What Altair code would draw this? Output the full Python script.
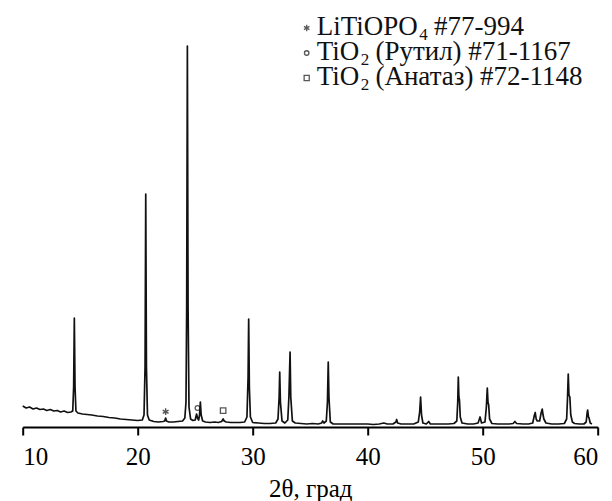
import altair as alt
import pandas as pd

# Diffraction pattern (2θ in degrees, intensity in arbitrary units)
two_theta = [
    10.0, 10.3, 10.6, 10.9, 11.2, 11.5, 11.8, 12.1, 12.4, 12.7, 13.0, 13.3, 13.6, 13.9, 14.2,
    14.35, 14.43, 14.49, 14.55, 14.63, 14.8, 15.2, 15.6, 16.0, 16.5, 17.0, 17.5, 18.0, 18.5,
    19.0, 19.5, 20.0, 20.4, 20.55, 20.64, 20.7, 20.76, 20.85, 21.0, 21.4, 21.8, 22.2, 22.35,
    22.43, 22.5, 22.7, 23.1, 23.5, 23.9, 24.1, 24.2, 24.26, 24.32, 24.38, 24.46, 24.6, 24.8,
    25.0, 25.12, 25.2, 25.3, 25.38, 25.45, 25.52, 25.65, 25.9, 26.3, 26.7, 27.0, 27.3, 27.43,
    27.52, 27.7, 28.1, 28.5, 28.9, 29.3, 29.5, 29.6, 29.65, 29.71, 29.8, 30.0, 30.5, 31.0,
    31.5, 32.0, 32.2, 32.3, 32.35, 32.41, 32.55, 32.8, 33.05, 33.15, 33.25, 33.31, 33.45,
    33.7, 34.2, 34.7, 35.2, 35.7, 36.0, 36.08, 36.2, 36.4, 36.5, 36.57, 36.63, 36.75, 37.0,
    37.5, 38.0, 38.5, 39.0, 39.5, 40.0, 40.5, 41.0, 41.4, 41.7, 42.2, 42.45, 42.52, 42.6,
    42.9, 43.5, 44.0, 44.4, 44.52, 44.6, 44.68, 44.8, 45.1, 45.3, 45.45, 46.0, 46.5, 47.0,
    47.5, 47.75, 47.83, 47.88, 47.93, 47.98, 48.05, 48.2, 48.7, 49.2, 49.6, 49.77, 49.9,
    50.2, 50.32, 50.4, 50.46, 50.52, 50.6, 50.8, 51.3, 51.8, 52.3, 52.65, 52.8, 52.95, 53.5,
    54.0, 54.35, 54.5, 54.57, 54.65, 54.75, 54.95, 55.08, 55.18, 55.25, 55.32, 55.5, 56.0,
    56.6, 57.1, 57.3, 57.38, 57.44, 57.5, 57.58, 57.66, 57.8, 58.0, 58.4, 58.8, 59.0, 59.08,
    59.13, 59.2, 59.25, 59.35, 59.5,
]
intensity = [
    21, 19, 20, 18, 19, 17.5, 18, 16.5, 17.5, 16, 16.5, 15, 16, 14.5, 15,
    16, 40, 109, 40, 16, 14, 13, 12.5, 12, 11, 10.5, 9.5, 9, 8,
    7.5, 7, 6.5, 7, 12, 60, 233, 60, 12, 7, 5.5, 5, 5.5, 6,
    9, 6, 5, 5, 5.5, 6, 9, 25, 120, 381, 120, 20, 8, 6.5,
    7, 13, 9, 7, 12, 25, 12, 6, 5, 4.5, 5, 4.5, 5.5, 8,
    6, 5, 4.5, 4.5, 4.5, 5, 10, 50, 108, 40, 10, 4.5, 4, 3.5,
    3.5, 4, 8, 30, 55, 25, 6, 4, 7, 30, 75, 30, 6,
    4, 3.5, 3, 3.5, 3, 4, 6, 4, 6, 25, 65, 30, 5, 3,
    3, 3, 3, 3, 3, 3, 2.5, 3, 4, 3, 3, 5, 7.5, 4,
    3, 3, 3, 5, 15, 30, 12, 4, 3, 5.5, 3, 3, 3, 3,
    3.5, 6, 25, 50, 30, 27, 10, 4, 3, 3, 4, 10, 4,
    5, 20, 39, 25, 22, 8, 3.5, 3, 3, 3, 3.5, 5.5, 3.5, 3,
    3, 4, 12, 14.5, 8, 6, 6, 14, 18, 12, 8, 4, 3,
    3, 3.5, 8, 30, 53, 32, 30, 12, 5, 3.5, 3, 3, 5, 14,
    17, 10, 9, 4, 3,
]

# Phase markers placed on the pattern
marker_theta = [22.43, 25.2, 27.43]
marker_intensity = [15.3, 19.0, 16.3]
marker_phase = ["LiTiOPO4", "rutile", "anatase"]

# Legend entries: formula head, subscript, rest of the line
legend_head = ["LiTiOPO", "TiO", "TiO"]
legend_sub = ["4", "2", "2"]
legend_tail = ["#77-994", "(Рутил) #71-1167", "(Анатаз) #72-1148"]

x_ticks = [10, 20, 30, 40, 50, 60]
x_title = "2θ, град"

FONT = "Liberation Serif"
INK = "#111111"
STAR = "M0,-1L0,1M-0.87,-0.5L0.87,0.5M-0.87,0.5L0.87,-0.5"
FS = 27          # legend font size
SFS = 17         # subscript font size
# approximate Times advance widths (em) for the head strings
HEAD_EM = {"LiTiOPO": 3.778, "TiO": 1.611}

pattern = pd.DataFrame({"theta": two_theta, "I": intensity})
markers = pd.DataFrame({"theta": marker_theta, "I": marker_intensity, "phase": marker_phase})

xscale = alt.Scale(domain=[10, 60], nice=False, zero=False)
yscale = alt.Scale(domain=[0, 419], nice=False, zero=True)

line = alt.Chart(pattern).mark_line(color=INK, strokeWidth=1.7, strokeJoin="round").encode(
    x=alt.X("theta:Q", scale=xscale,
            axis=alt.Axis(values=x_ticks, title=x_title, grid=False,
                          labelFont=FONT, titleFont=FONT, labelFontSize=25, titleFontSize=25)),
    y=alt.Y("I:Q", scale=yscale, axis=None),
)

star_pt = alt.Chart(markers).transform_filter(alt.datum.phase == "LiTiOPO4").mark_point(
    shape=STAR, filled=False, stroke=INK, strokeWidth=1.4, size=45
).encode(x=alt.X("theta:Q", scale=xscale), y=alt.Y("I:Q", scale=yscale))

circ_pt = alt.Chart(markers).transform_filter(alt.datum.phase == "rutile").mark_point(
    shape="circle", filled=False, stroke=INK, strokeWidth=1.3, size=22
).encode(x=alt.X("theta:Q", scale=xscale), y=alt.Y("I:Q", scale=yscale))

sq_pt = alt.Chart(markers).transform_filter(alt.datum.phase == "anatase").mark_point(
    shape="square", filled=False, stroke=INK, strokeWidth=1.3, size=30
).encode(x=alt.X("theta:Q", scale=xscale), y=alt.Y("I:Q", scale=yscale))

legend_layers = []
shapes = [STAR, "circle", "square"]
sizes = [40, 20, 26]
base_y = [27, 52, 77]
x0 = 294
for i in range(3):
    df = pd.DataFrame({"head": [legend_head[i]], "sub": [legend_sub[i]],
                       "tail": [legend_tail[i]]})
    w_head = HEAD_EM[legend_head[i]] * FS
    w_sub = 0.5 * SFS
    w_space = 0.25 * FS
    legend_layers.append(
        alt.Chart(df).mark_text(font=FONT, fontSize=FS, align="left", baseline="alphabetic",
                                color=INK).encode(
            x=alt.value(x0), y=alt.value(base_y[i]), text="head:N")
    )
    legend_layers.append(
        alt.Chart(df).mark_text(font=FONT, fontSize=SFS, align="left", baseline="alphabetic",
                                color=INK).encode(
            x=alt.value(x0 + w_head + 0.5), y=alt.value(base_y[i] + 5), text="sub:N")
    )
    legend_layers.append(
        alt.Chart(df).mark_text(font=FONT, fontSize=FS, align="left", baseline="alphabetic",
                                color=INK).encode(
            x=alt.value(x0 + w_head + w_sub + w_space), y=alt.value(base_y[i]), text="tail:N")
    )
    legend_layers.append(
        alt.Chart(df).mark_point(shape=shapes[i], filled=False, stroke=INK, strokeWidth=1.3,
                                 size=sizes[i]).encode(
            x=alt.value(284), y=alt.value(base_y[i] - 7))
    )

chart = alt.layer(line, star_pt, circ_pt, sq_pt, *legend_layers).properties(
    width=575, height=419,
    autosize=alt.AutoSizeParams(type="none"),
    padding={"left": 14.7, "top": 0, "right": 6, "bottom": 74},
).configure_view(stroke=None).configure_axis(
    domainColor="black", domainWidth=2, tickColor="black", tickWidth=2, tickSize=8,
    labelFont=FONT, labelFontSize=25, labelColor="black", labelPadding=10,
    titleFont=FONT, titleFontSize=25, titleFontWeight="normal", titleColor="black",
    titlePadding=7,
)

chart.save("out.html", embed_options={"renderer": "svg", "actions": False})
